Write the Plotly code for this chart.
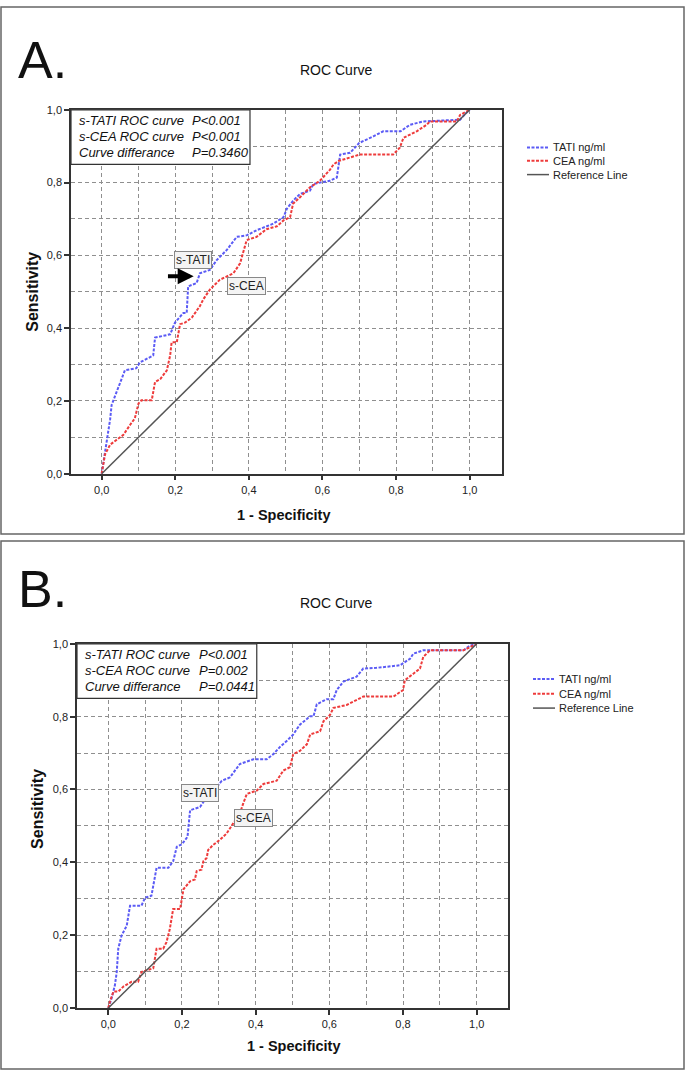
import plotly.graph_objects as go

W, H = 685, 1076

# ---------------- data ----------------
tati_a_fpr = [0, 0.005, 0.013, 0.023, 0.027, 0.041, 0.063, 0.094, 0.104, 0.14, 0.145, 0.186, 0.199, 0.222, 0.231, 0.235, 0.258, 0.267, 0.294, 0.3125, 0.34, 0.367, 0.394, 0.421, 0.466, 0.494, 0.503, 0.52, 0.539, 0.566, 0.575, 0.593, 0.62, 0.639, 0.648, 0.675, 0.70, 0.738, 0.765, 0.812, 0.838, 0.874, 0.974, 0.99, 1.0]
tati_a_tpr = [0, 0.03, 0.08, 0.15, 0.189, 0.225, 0.284, 0.29, 0.306, 0.325, 0.374, 0.383, 0.415, 0.442, 0.442, 0.515, 0.524, 0.551, 0.56, 0.587, 0.615, 0.651, 0.655, 0.669, 0.687, 0.705, 0.728, 0.75, 0.769, 0.778, 0.796, 0.80, 0.805, 0.814, 0.877, 0.882, 0.909, 0.927, 0.941, 0.941, 0.959, 0.968, 0.973, 0.991, 1.0]

cea_a_fpr = [0, 0.004, 0.009, 0.023, 0.045, 0.059, 0.077, 0.09, 0.1, 0.108, 0.136, 0.145, 0.159, 0.177, 0.186, 0.19, 0.204, 0.213, 0.226, 0.245, 0.254, 0.267, 0.276, 0.294, 0.321, 0.358, 0.376, 0.394, 0.421, 0.448, 0.476, 0.494, 0.512, 0.52, 0.539, 0.566, 0.593, 0.62, 0.63, 0.645, 0.675, 0.70, 0.792, 0.81, 0.82, 0.856, 0.883, 0.892, 0.965, 0.974, 1.0]
cea_a_tpr = [0, 0.02, 0.053, 0.08, 0.098, 0.107, 0.134, 0.152, 0.193, 0.202, 0.202, 0.252, 0.26, 0.284, 0.325, 0.361, 0.361, 0.411, 0.415, 0.429, 0.442, 0.461, 0.479, 0.506, 0.533, 0.551, 0.578, 0.642, 0.651, 0.672, 0.68, 0.696, 0.705, 0.742, 0.76, 0.787, 0.805, 0.835, 0.85, 0.86, 0.869, 0.877, 0.877, 0.896, 0.923, 0.941, 0.959, 0.968, 0.968, 0.986, 1.0]

tati_b_fpr = [0, 0.009, 0.018, 0.023, 0.027, 0.036, 0.05, 0.059, 0.09, 0.1, 0.117, 0.131, 0.163, 0.176, 0.186, 0.2, 0.215, 0.222, 0.249, 0.267, 0.294, 0.308, 0.33, 0.357, 0.394, 0.43, 0.448, 0.466, 0.484, 0.502, 0.52, 0.548, 0.557, 0.566, 0.593, 0.611, 0.62, 0.638, 0.674, 0.692, 0.728, 0.792, 0.819, 0.828, 0.855, 0.964, 0.982, 1.0]
tati_b_tpr = [0, 0.027, 0.063, 0.1, 0.163, 0.199, 0.226, 0.281, 0.281, 0.303, 0.308, 0.385, 0.385, 0.403, 0.443, 0.45, 0.47, 0.543, 0.552, 0.579, 0.606, 0.624, 0.633, 0.67, 0.683, 0.683, 0.697, 0.717, 0.733, 0.751, 0.778, 0.801, 0.801, 0.834, 0.848, 0.848, 0.873, 0.896, 0.91, 0.932, 0.934, 0.941, 0.959, 0.973, 0.982, 0.982, 0.995, 1.0]

cea_b_fpr = [0, 0.005, 0.014, 0.027, 0.041, 0.063, 0.081, 0.09, 0.122, 0.127, 0.131, 0.149, 0.158, 0.167, 0.176, 0.195, 0.199, 0.204, 0.222, 0.235, 0.24, 0.253, 0.258, 0.267, 0.271, 0.285, 0.303, 0.321, 0.339, 0.357, 0.366, 0.376, 0.403, 0.421, 0.457, 0.475, 0.493, 0.502, 0.52, 0.539, 0.548, 0.575, 0.584, 0.602, 0.611, 0.647, 0.692, 0.774, 0.80, 0.805, 0.828, 0.846, 0.855, 0.873, 0.964, 0.982, 1.0]
cea_b_tpr = [0, 0.02, 0.045, 0.045, 0.059, 0.072, 0.072, 0.099, 0.109, 0.136, 0.163, 0.163, 0.181, 0.217, 0.272, 0.272, 0.299, 0.326, 0.348, 0.353, 0.376, 0.38, 0.403, 0.412, 0.434, 0.448, 0.462, 0.479, 0.507, 0.534, 0.561, 0.588, 0.597, 0.615, 0.624, 0.652, 0.661, 0.697, 0.706, 0.724, 0.751, 0.76, 0.787, 0.805, 0.824, 0.832, 0.855, 0.855, 0.873, 0.9, 0.918, 0.932, 0.964, 0.982, 0.982, 0.991, 1.0]

ref_x = [0, 1]
ref_y = [0, 1]

tick_vals = [0.0, 0.2, 0.4, 0.6, 0.8, 1.0]
tick_text = ["0,0", "0,2", "0,4", "0,6", "0,8", "1,0"]

series_names = ["TATI ng/ml", "CEA ng/ml", "Reference Line"]
stats_labels = ["s-TATI ROC curve", "s-CEA ROC curve", "Curve differance"]
stats_a = ["P<0.001", "P<0.001", "P=0.3460"]
stats_b = ["P<0.001", "P=0.002", "P=0.0441"]

BLUE = "#5b5bf5"
RED = "#ee3b3b"
GRAY = "#555555"
FONT = "Liberation Sans, Arial, sans-serif"
CURVE_DASH = "3px,1.5px"
GRID_DASH = "4px,3px"


def px(x):
    return x / W


def py(y):
    return 1 - y / H


fig = go.Figure()

panels = [
    dict(ax="", fpr_t=tati_a_fpr, tpr_t=tati_a_tpr, fpr_c=cea_a_fpr, tpr_c=cea_a_tpr,
         dom_x=[px(71), px(502)], dom_y=[py(473), py(105)], xr=[-0.0834, 1.0878],
         leg_x=527, leg_y=[143, 156.5, 170.5], stats=stats_a),
    dict(ax="2", fpr_t=tati_b_fpr, tpr_t=tati_b_tpr, fpr_c=cea_b_fpr, tpr_c=cea_b_tpr,
         dom_x=[px(77), px(508)], dom_y=[py(1013.3), py(645)], xr=[-0.085, 1.085],
         leg_x=533, leg_y=[680.5, 695.5, 710], stats=stats_b),
]

styles = [dict(color=BLUE, width=2, dash=CURVE_DASH),
          dict(color=RED, width=2, dash=CURVE_DASH),
          dict(color=GRAY, width=1.5)]

for p in panels:
    xa = "x" + p["ax"]
    ya = "y" + p["ax"]
    fig.add_trace(go.Scatter(x=p["fpr_t"], y=p["tpr_t"], mode="lines", name=series_names[0],
                             line=styles[0], xaxis=xa, yaxis=ya, showlegend=False))
    fig.add_trace(go.Scatter(x=p["fpr_c"], y=p["tpr_c"], mode="lines", name=series_names[1],
                             line=styles[1], xaxis=xa, yaxis=ya, showlegend=False))
    fig.add_trace(go.Scatter(x=ref_x, y=ref_y, mode="lines", name=series_names[2],
                             line=styles[2], xaxis=xa, yaxis=ya, showlegend=False))

axis_common = dict(
    showline=True, mirror=True, linecolor="#333333", linewidth=1.5,
    ticks="outside", ticklen=5, tickcolor="#333333", tickwidth=1.5,
    tickvals=tick_vals, ticktext=tick_text,
    tickfont=dict(family=FONT, size=11, color="#222222"),
    showgrid=True, gridcolor="#8f8f8f", gridwidth=1, griddash=GRID_DASH,
    minor=dict(dtick=0.1, tick0=0, showgrid=True, gridcolor="#8f8f8f", gridwidth=1, griddash=GRID_DASH, ticks=""),
    zeroline=False,
)

layout = dict(
    width=W, height=H, margin=dict(l=0, r=0, t=0, b=0),
    paper_bgcolor="white", plot_bgcolor="white",
    font=dict(family=FONT, color="#222222"),
    showlegend=False,
)

for p in panels:
    sfx = p["ax"]
    layout["xaxis" + sfx] = dict(axis_common, domain=p["dom_x"], range=p["xr"], anchor="y" + sfx)
    layout["yaxis" + sfx] = dict(axis_common, domain=p["dom_y"], range=[0, 1], anchor="x" + sfx)

fig.update_layout(**layout)

shapes = []
annotations = []

# panel borders
shapes.append(dict(type="rect", xref="paper", yref="paper", x0=px(1), x1=px(684), y0=py(534), y1=py(1),
                   line=dict(color="#666666", width=1.5)))
shapes.append(dict(type="rect", xref="paper", yref="paper", x0=px(1), x1=px(684), y0=py(1075), y1=py(541),
                   line=dict(color="#666666", width=1.5)))

# legends (drawn per panel)
for p in panels:
    for k in range(3):
        ly = p["leg_y"][k]
        st = styles[k]
        shapes.append(dict(type="line", xref="paper", yref="paper", x0=px(p["leg_x"]), x1=px(p["leg_x"] + 22),
                           y0=py(ly), y1=py(ly),
                           line=dict(color=st["color"], width=st["width"], dash=st.get("dash", "solid"))))
        annotations.append(dict(xref="paper", yref="paper", x=px(p["leg_x"] + 24), y=py(ly), text=series_names[k],
                                showarrow=False, xanchor="left", yanchor="middle",
                                font=dict(family=FONT, size=11, color="#222222")))

# panel letters & titles & axis titles
for letter, ly, ty, xt_x, xt_y, yt_x, yt_y in [("A.", 55, 65, 283, 515, 33, 289),
                                               ("B.", 590, 604, 293, 1052, 38, 812)]:
    annotations.append(dict(xref="paper", yref="paper", x=px(16), y=py(ly), text=letter, showarrow=False,
                            xanchor="left", yanchor="middle", font=dict(family=FONT, size=52, color="#111111")))
    annotations.append(dict(xref="paper", yref="paper", x=px(336), y=py(ty), text="ROC Curve", showarrow=False,
                            xanchor="center", yanchor="middle", font=dict(family=FONT, size=14, color="#111111")))
    annotations.append(dict(xref="paper", yref="paper", x=px(xt_x), y=py(xt_y), text="<b>1 - Specificity</b>",
                            showarrow=False, xanchor="center", yanchor="middle",
                            font=dict(family=FONT, size=14.5, color="#111111")))
    annotations.append(dict(xref="paper", yref="paper", x=px(yt_x), y=py(yt_y), text="<b>Sensitivity</b>",
                            showarrow=False, textangle=-90, xanchor="center", yanchor="middle",
                            font=dict(family=FONT, size=16, color="#111111")))

# stats boxes + curve labels
for p, lab_x, val_x, tati_xy, cea_xy in [
    (panels[0], -0.067, 0.24, (0.248, 0.588), (0.393, 0.517)),
    (panels[1], -0.069, 0.241, (0.249, 0.591), (0.394, 0.523)),
]:
    xr = "x" + p["ax"]
    yr = "y" + p["ax"]
    shapes.append(dict(type="rect", xref=xr, yref=yr, x0=p["xr"][0], x1=0.403, y0=0.85, y1=1.0,
                       line=dict(color="#333333", width=1.2), fillcolor="white", layer="above"))
    for k, yy in enumerate([0.970, 0.927, 0.883]):
        annotations.append(dict(xref=xr, yref=yr, x=lab_x, y=yy, text="<i>" + stats_labels[k] + "</i>",
                                showarrow=False, xanchor="left", yanchor="middle",
                                font=dict(family=FONT, size=13, color="#111111")))
        annotations.append(dict(xref=xr, yref=yr, x=val_x, y=yy, text="<i>" + p["stats"][k] + "</i>",
                                showarrow=False, xanchor="left", yanchor="middle",
                                font=dict(family=FONT, size=13, color="#111111")))
    for txt, (cx, cy) in [("s-TATI", tati_xy), ("s-CEA", cea_xy)]:
        annotations.append(dict(xref=xr, yref=yr, x=cx, y=cy, text=txt, showarrow=False,
                                xanchor="center", yanchor="middle", bgcolor="#f4f4f4",
                                bordercolor="#888888", borderwidth=1, borderpad=1,
                                font=dict(family=FONT, size=12, color="#222222")))

# arrow in panel A
annotations.append(dict(xref="x", yref="y", x=0.25, y=0.543, ax=0.176, ay=0.543, axref="x", ayref="y",
                        text="", showarrow=True, arrowhead=2, arrowsize=0.8, arrowwidth=4,
                        arrowcolor="#000000"))

fig.update_layout(shapes=shapes, annotations=annotations)

fig.write_html("out.html", config={"displayModeBar": False},
               post_script="document.body.style.margin='0';document.body.style.overflow='hidden';")
